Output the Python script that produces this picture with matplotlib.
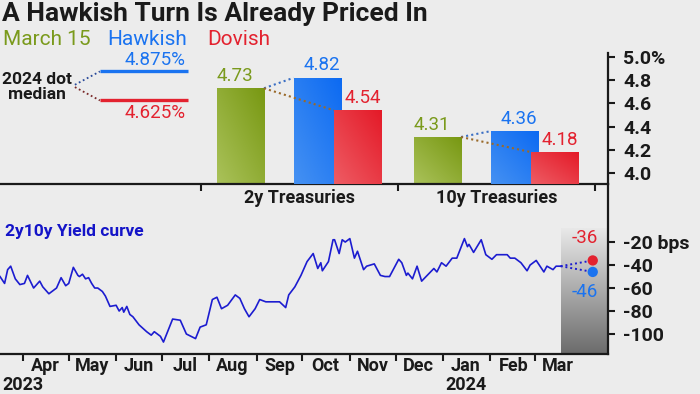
import matplotlib.pyplot as plt
import matplotlib.dates as mdates
import numpy as np
import pandas as pd
from matplotlib.colors import LinearSegmentedColormap

plt.rcParams['font.family'] = ['Roboto', 'DejaVu Sans']

BG = '#ececec'
INK = '#1a1a1a'
GREEN = '#7a9a1c'
BLUE = '#1a73f0'
RED = '#e3222f'
LINE = '#1c1cd0'

# --- data -------------------------------------------------------------
groups = ['2y Treasuries', '10y Treasuries']
march15 = [4.73, 4.31]
hawkish = [4.82, 4.36]
dovish = [4.54, 4.18]

dot_hawkish = 4.875
dot_dovish = 4.625

top_ticks = [4.0, 4.2, 4.4, 4.6, 4.8, 5.0]
top_tick_labels = ['4.0', '4.2', '4.4', '4.6', '4.8', '5.0%']

curve_dates = [
    '2023-03-17', '2023-03-20', '2023-03-22', '2023-03-24', '2023-03-27', '2023-03-30',
    '2023-04-02', '2023-04-04', '2023-04-08', '2023-04-12', '2023-04-14', '2023-04-18',
    '2023-04-21', '2023-04-23', '2023-04-26', '2023-04-29', '2023-05-01', '2023-05-04',
    '2023-05-07', '2023-05-08', '2023-05-10', '2023-05-12', '2023-05-14', '2023-05-16',
    '2023-05-18', '2023-05-20', '2023-05-23', '2023-05-25', '2023-05-28', '2023-06-01',
    '2023-06-03', '2023-06-05', '2023-06-06', '2023-06-08', '2023-06-10', '2023-06-12',
    '2023-06-16', '2023-06-21', '2023-06-24', '2023-06-26', '2023-06-30', '2023-07-02',
    '2023-07-08', '2023-07-13', '2023-07-17', '2023-07-23', '2023-07-26', '2023-07-30',
    '2023-08-03', '2023-08-06', '2023-08-09', '2023-08-13', '2023-08-18', '2023-08-21',
    '2023-08-24', '2023-08-27', '2023-08-31', '2023-09-03', '2023-09-07', '2023-09-16',
    '2023-09-20', '2023-09-22', '2023-09-26', '2023-09-30', '2023-10-04', '2023-10-08',
    '2023-10-11', '2023-10-13', '2023-10-14', '2023-10-18', '2023-10-21', '2023-10-22',
    '2023-10-25', '2023-10-27', '2023-10-29', '2023-11-01', '2023-11-04', '2023-11-06',
    '2023-11-10', '2023-11-12', '2023-11-17', '2023-11-21', '2023-11-24', '2023-11-27',
    '2023-12-03', '2023-12-05', '2023-12-08', '2023-12-09', '2023-12-12', '2023-12-15',
    '2023-12-18', '2023-12-26', '2023-12-28', '2023-12-31', '2024-01-03', '2024-01-07',
    '2024-01-10', '2024-01-15', '2024-01-17', '2024-01-18', '2024-01-21', '2024-01-26',
    '2024-01-29', '2024-02-02', '2024-02-05', '2024-02-12', '2024-02-14', '2024-02-17',
    '2024-02-21', '2024-02-25', '2024-02-27', '2024-03-02', '2024-03-07', '2024-03-09',
    '2024-03-13', '2024-03-15', '2024-03-18',
]
curve_bps = [
    -50, -56, -44, -41, -52, -57,
    -56, -49, -60, -54, -59, -65,
    -62, -60, -51, -58, -56, -42,
    -49, -50, -48, -52, -51, -56,
    -60, -60, -63, -67, -76, -75,
    -80, -77, -81, -76, -83, -85,
    -92, -98, -101, -98, -102, -107,
    -87, -88, -100, -104, -94, -92,
    -70, -68, -78, -75, -66, -69,
    -78, -85, -78, -70, -72, -72,
    -77, -66, -59, -49, -37, -30,
    -43, -38, -45, -37, -18, -18,
    -30, -18, -20, -17, -34, -28,
    -44, -41, -39, -49, -50, -50,
    -35, -38, -49, -47, -52, -41,
    -54, -43, -46, -38, -41, -34,
    -34, -17, -24, -22, -29, -18,
    -31, -35, -31, -31, -34, -34,
    -38, -45, -40, -36, -46, -41,
    -44, -41, -41,
]

scenario_date = '2024-04-08'
hawkish_bps = -46
dovish_bps = -36

bot_ticks = [-20, -40, -60, -80, -100]
bot_tick_labels = ['-20 bps', '-40', '-60', '-80', '-100']

# --- figure -----------------------------------------------------------
fig = plt.figure(figsize=(7, 3.94), dpi=100, facecolor=BG)
ax = fig.add_axes([0.0, 0.533, 0.8686, 0.3325], facecolor=BG)
ax2 = fig.add_axes([0.0, 0.1015, 0.8686, 0.4315], facecolor='none')

ylo, yhi = 3.905, 5.034
xlo, xhi = -1.52, 1.566
w = 0.2386
offsets = [-0.2995, 0.089, 0.294]


def gradient_bar(ax, x, h, light, dark, z):
    bar = ax.bar(x, h, w, color='none', edgecolor='none', zorder=z)[0]
    cmap = LinearSegmentedColormap.from_list('g', [light, dark])
    gx, gy = np.meshgrid(np.linspace(0, 1, 60), np.linspace(0, 1, 60))
    im = ax.imshow((gx + gy) / 2, cmap=cmap, origin='lower', aspect='auto',
                   extent=[x - w / 2, x + w / 2, ylo, h], zorder=z)
    im.set_clip_path(bar)


for i in range(len(groups)):
    xg, xb, xr = i + offsets[0], i + offsets[1], i + offsets[2]
    gradient_bar(ax, xg, march15[i], '#aac25a', '#789812', 2)
    gradient_bar(ax, xb, hawkish[i], '#4591f2', '#0c6af2', 3)
    gradient_bar(ax, xr, dovish[i], '#ee5c64', '#e41a28', 4)
    ax.text(xg - w / 2, march15[i] + 0.03, f'{march15[i]:.2f}', color=GREEN,
            fontsize=13.5, ha='left', va='bottom')
    ax.text(xb + w / 2, hawkish[i] + 0.03, f'{hawkish[i]:.2f}', color=BLUE,
            fontsize=13.5, ha='right', va='bottom')
    ax.text(xr + w / 2, dovish[i] + 0.03, f'{dovish[i]:.2f}', color=RED,
            fontsize=13.5, ha='right', va='bottom', zorder=6)
    ax.plot([xg + w / 2, xb - w / 2], [march15[i], hawkish[i]], ls=(0, (1, 1.5)),
            color='#3b6fc4', lw=1.5, zorder=5)
    ax.plot([xg + w / 2, xr - w / 2], [march15[i], dovish[i]], ls=(0, (1, 1.5)),
            color='#9a6a2a', lw=1.5, zorder=5)

# 2024 dot median key
ax.hlines([dot_hawkish, dot_dovish], -1.013, -0.566, colors=[BLUE, RED], lw=2.4)
ax.text(-0.576, dot_hawkish + 0.02, f'{dot_hawkish:.3f}%', color=BLUE,
        fontsize=13.5, ha='right', va='bottom')
ax.text(-0.576, dot_dovish - 0.03, f'{dot_dovish:.3f}%', color=RED,
        fontsize=13.5, ha='right', va='top')
ax.text(-1.335, 4.74, '2024 dot\nmedian', color=INK, fontsize=12.5,
        fontweight='bold', ha='center', va='center', linespacing=0.95)
ax.plot([-1.14, -1.013], [4.76, dot_hawkish], ls=(0, (1, 1.5)), color='#2a4a9a', lw=1.3)
ax.plot([-1.14, -1.013], [4.74, dot_dovish], ls=(0, (1, 1.5)), color='#7a2a2a', lw=1.3)

ax.set_xlim(xlo, xhi)
ax.set_ylim(ylo, yhi)
ax.set_xticks([-0.5, 0.5, 1.5])
ax.set_xticklabels([])
ax.tick_params(axis='x', length=5, width=1.5, color=INK)
for i, g in enumerate(groups):
    ax.text(i, ylo - 0.045, g, ha='center', va='top', fontsize=13,
            fontweight='bold', color=INK, zorder=10)
ax.yaxis.tick_right()
ax.set_yticks(top_ticks)
ax.set_yticklabels(top_tick_labels)
ax.tick_params(axis='y', length=5, width=1.5, color=INK, pad=6,
               labelsize=14, labelcolor=INK)
for lab in ax.get_yticklabels():
    lab.set_fontweight('bold')
for s in ['left', 'top']:
    ax.spines[s].set_visible(False)
for s in ['bottom', 'right']:
    ax.spines[s].set_linewidth(1.6)
    ax.spines[s].set_color(INK)

# --- yield curve ------------------------------------------------------
dates = pd.to_datetime(curve_dates)
sdate = pd.Timestamp(scenario_date)
x_end = pd.Timestamp('2024-04-18')
bot_lo, bot_hi = -117.4, 30.5

ax2.plot(dates, curve_bps, color=LINE, lw=1.2, zorder=3)
shade = LinearSegmentedColormap.from_list('s', ['#6c6c6c', '#e8e8e8'])
ax2.imshow(np.linspace(0, 1, 100).reshape(-1, 1), cmap=shade, origin='lower',
           aspect='auto', zorder=1,
           extent=[mdates.date2num(dates[-1]), mdates.date2num(x_end), bot_lo, -8])
for val, col in [(dovish_bps, RED), (hawkish_bps, BLUE)]:
    ax2.plot([dates[-1], sdate], [curve_bps[-1], val], ls=(0, (1, 1.5)),
             color=LINE, lw=1.4, zorder=3)
    ax2.scatter([sdate], [val], s=55, color=col, zorder=4, edgecolors='none')
ax2.annotate(f'{dovish_bps}', (sdate, dovish_bps), xytext=(4, 10),
             textcoords='offset points', ha='right', va='bottom', color=RED, fontsize=13.5)
ax2.annotate(f'{hawkish_bps}', (sdate, hawkish_bps), xytext=(4, -8),
             textcoords='offset points', ha='right', va='top', color=BLUE, fontsize=13.5)

ax2.text(0.008, 0.72, '2y10y Yield curve', transform=ax2.transAxes, color='#1414c8',
         fontsize=12.5, fontweight='bold', ha='left', va='center')

ax2.set_xlim(dates[0], x_end)
ax2.set_ylim(bot_lo, bot_hi)
month_starts = pd.date_range('2023-04-01', '2024-03-01', freq='MS')
ax2.set_xticks(month_starts)
ax2.set_xticklabels([])
ax2.set_xticks(month_starts + pd.Timedelta(days=15), minor=True)
ax2.xaxis.set_minor_formatter(mdates.DateFormatter('%b'))
ax2.tick_params(axis='x', which='major', length=5, width=1.5, color=INK)
ax2.tick_params(axis='x', which='minor', length=0, pad=2, labelsize=13, labelcolor=INK)
for lab in ax2.get_xticklabels(minor=True):
    lab.set_fontweight('bold')
ax2.text(0.004, -0.132, '2023', transform=ax2.transAxes, fontsize=13,
         fontweight='bold', color=INK, ha='left', va='top')
ax2.text(pd.Timestamp('2024-01-16'), -0.132, '2024', fontsize=13,
         transform=ax2.get_xaxis_transform(),
         fontweight='bold', color=INK, ha='center', va='top')

ax2.yaxis.tick_right()
ax2.set_yticks(bot_ticks)
ax2.set_yticklabels(bot_tick_labels)
ax2.tick_params(axis='y', length=5, width=1.5, color=INK, pad=6,
                labelsize=14, labelcolor=INK)
for lab in ax2.get_yticklabels():
    lab.set_fontweight('bold')
for s in ['left', 'top']:
    ax2.spines[s].set_visible(False)
for s in ['bottom', 'right']:
    ax2.spines[s].set_linewidth(1.6)
    ax2.spines[s].set_color(INK)

# --- headings ---------------------------------------------------------
fig.text(0.003, 0.995, 'A Hawkish Turn Is Already Priced In', fontsize=19,
         fontweight='bold', color=INK, ha='left', va='top')
fig.text(0.004, 0.885, 'March 15', fontsize=15, color=GREEN, ha='left', va='baseline')
fig.text(0.153, 0.885, 'Hawkish', fontsize=15, color=BLUE, ha='left', va='baseline')
fig.text(0.296, 0.885, 'Dovish', fontsize=15, color=RED, ha='left', va='baseline')

fig.savefig('out.png', dpi=100, facecolor=BG)
